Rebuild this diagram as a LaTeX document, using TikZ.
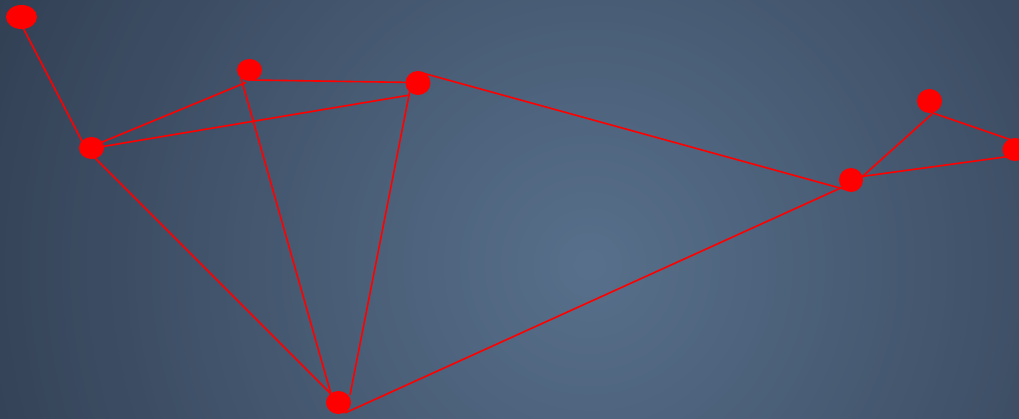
\documentclass[tikz,border=0pt]{standalone}
\usetikzlibrary{shapes.geometric}
\definecolor{bgin}{RGB}{88,112,140}
\definecolor{bgout}{RGB}{50,64,84}
\definecolor{nodered}{RGB}{255,0,0}
\begin{document}
\begin{tikzpicture}[x=1pt,y=-1pt,
  dot/.style 2 args={ellipse,fill=nodered,draw=none,minimum width=#1pt,minimum height=#2pt,inner sep=0pt},
  link/.style={draw=nodered,line width=1.6pt}]
\useasboundingbox (0,0) rectangle (1019,418);
\begin{scope}
\clip (0,0) rectangle (1019,418);
\fill[bgout] (0,0) rectangle (1019,418);
\foreach \i in {80,79,...,1}{
  \pgfmathsetmacro{\pct}{100-1.25*\i}
  \pgfmathsetmacro{\rad}{8.125*\i}
  \fill[bgin!\pct!bgout] (590,265) circle (\rad pt);
}
\end{scope}
% nodes (positions)
\coordinate (a) at (21.5,17);
\coordinate (b) at (91.5,148);
\coordinate (c) at (249.5,70);
\coordinate (d) at (418,83);
\coordinate (e) at (338.5,402.5);
\coordinate (f) at (851,180);
\coordinate (g) at (929.5,101);
\coordinate (h) at (1015,149.5);
% connectors
\draw[link] ([shift={(-2.5,3)}]a) -- ([shift={(-7.5,-3)}]b);
\draw[link] ([shift={(8.5,-5)}]b) -- ([shift={(-3.5,12.5)}]c);
\draw[link] ([shift={(8.5,-1)}]b) -- ([shift={(-8,12)}]d);
\draw[link] ([shift={(2.5,10)}]c) -- ([shift={(-3,-0.5)}]d);
\draw[link] ([shift={(0.5,7)}]b) -- ([shift={(-6.5,-7.5)}]e);
\draw[link] ([shift={(-8.5,8)}]c) -- ([shift={(-7.5,-8.5)}]e);
\draw[link] ([shift={(-8,7)}]d) -- ([shift={(11.5,-7.5)}]e);
\draw[link] ([shift={(2,-10.7)}]d) -- ([shift={(-6,9.4)}]f);
\draw[link] ([shift={(6.5,10.5)}]e) -- ([shift={(-6,6)}]f);
\draw[link] ([shift={(9,-1.3)}]f) -- ([shift={(2.5,13)}]g);
\draw[link] ([shift={(7,-3)}]f) -- ([shift={(-3,6.5)}]h);
\draw[link] ([shift={(0.5,11)}]g) -- ([shift={(-5,-10)}]h);
% node discs
\node[dot={31}{24}] (na) at (a) {};
\node[dot={25}{22}] (nb) at (b) {};
\node[dot={25}{22}] (nc) at (c) {};
\node[dot={25}{24}] (nd) at (d) {};
\node[dot={25}{23}] (ne) at (e) {};
\node[dot={24}{24}] (nf) at (f) {};
\node[dot={25}{24}] (ng) at (g) {};
\node[dot={25}{23}] (nh) at (h) {};
\end{tikzpicture}
\end{document}
